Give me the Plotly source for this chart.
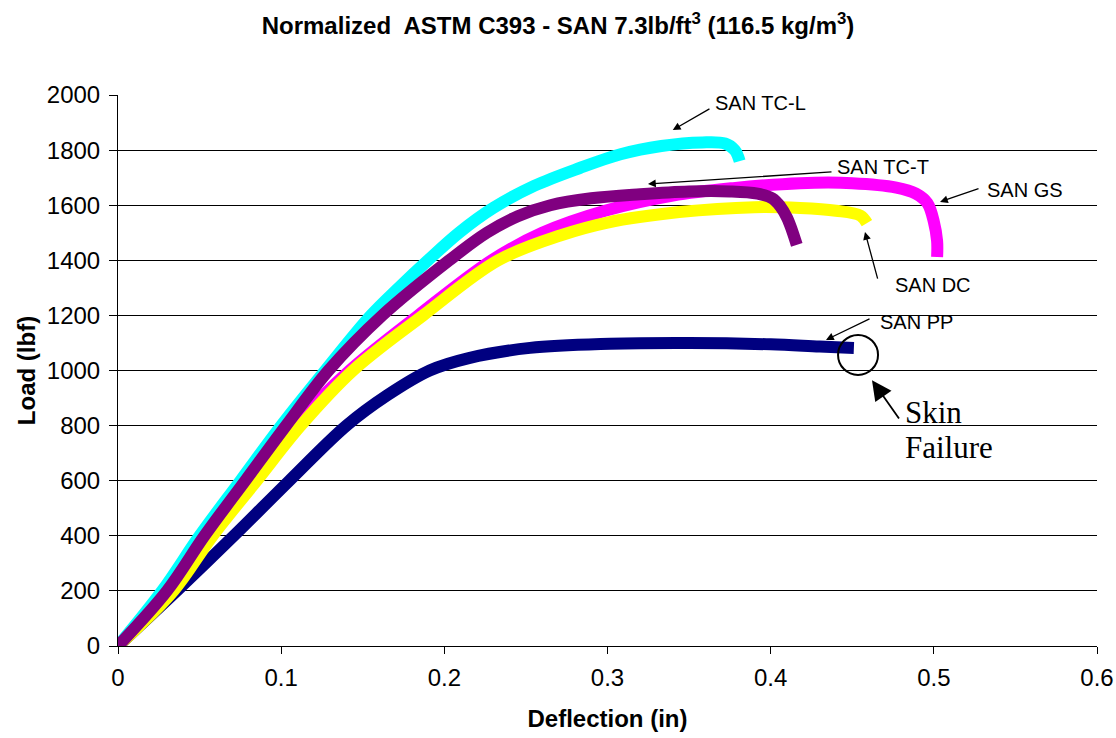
import plotly.graph_objects as go

# ---- data ----
tcl_x = [0, 0.027, 0.050, 0.075, 0.100, 0.127, 0.155, 0.172, 0.190, 0.209, 0.230, 0.255, 0.283, 0.308, 0.333, 0.358, 0.372, 0.378, 0.381]
tcl_y = [0, 200, 400, 600, 800, 1000, 1200, 1300, 1400, 1500, 1590, 1670, 1735, 1785, 1815, 1828, 1824, 1800, 1760]

tct_x = [0, 0.030, 0.053, 0.078, 0.103, 0.129, 0.162, 0.203, 0.226, 0.245, 0.265, 0.290, 0.320, 0.350, 0.375, 0.392, 0.401, 0.406, 0.410, 0.413, 0.416]
tct_y = [0, 200, 400, 600, 800, 1000, 1200, 1400, 1500, 1560, 1600, 1625, 1640, 1650, 1650, 1642, 1625, 1595, 1555, 1510, 1456]

gs_x = [0, 0.031, 0.055, 0.081, 0.108, 0.142, 0.184, 0.229, 0.260, 0.2985, 0.340, 0.377, 0.418, 0.450, 0.477, 0.489, 0.496, 0.500, 0.502, 0.502]
gs_y = [0, 200, 400, 600, 800, 1000, 1200, 1400, 1500, 1580, 1635, 1662, 1680, 1680, 1664, 1642, 1608, 1540, 1470, 1412]

dc_x = [0, 0.034, 0.058, 0.085, 0.112, 0.144, 0.187, 0.233, 0.271, 0.300, 0.344, 0.390, 0.418, 0.440, 0.455, 0.459]
dc_y = [0, 200, 400, 600, 800, 1000, 1200, 1400, 1490, 1537, 1575, 1593, 1590, 1580, 1562, 1535]

pp_x = [0, 0.036, 0.071, 0.105, 0.140, 0.165, 0.191, 0.215, 0.2525, 0.3015, 0.350, 0.400, 0.430, 0.451]
pp_y = [0, 200, 400, 600, 800, 910, 1000, 1045, 1082, 1097, 1100, 1095, 1087, 1082]

x_ticks = [0, 0.1, 0.2, 0.3, 0.4, 0.5, 0.6]
x_tick_text = ["0", "0.1", "0.2", "0.3", "0.4", "0.5", "0.6"]
y_ticks = [0, 200, 400, 600, 800, 1000, 1200, 1400, 1600, 1800, 2000]

series = [
    ("SAN PP", pp_x, pp_y, "#000080"),
    ("SAN GS", gs_x, gs_y, "#FF00FF"),
    ("SAN DC", dc_x, dc_y, "#FFFF00"),
    ("SAN TC-L", tcl_x, tcl_y, "#00FFFF"),
    ("SAN TC-T", tct_x, tct_y, "#800080"),
]

fig = go.Figure()
for name, xs, ys, col in series:
    fig.add_trace(go.Scatter(x=xs, y=ys, mode="lines", name=name,
                             line=dict(color=col, width=12, shape="spline", smoothing=1.0),
                             showlegend=False))

lab_font = dict(family="Liberation Sans, Arial", size=20, color="black")
# (label, head_x, head_y, tail_x, tail_y, text_x, text_y)
labels = [
    ("SAN TC-L", 0.340, 1873, 0.3634, 1953, 0.3646, 1971),
    ("SAN TC-T", 0.3248, 1677, 0.4382, 1721, 0.4394, 1739),
    ("SAN GS", 0.5038, 1612, 0.5283, 1662, 0.5314, 1655),
    ("SAN DC", 0.4578, 1503, 0.4658, 1328, 0.475, 1310),
    ("SAN PP", 0.4339, 1111, 0.4615, 1190, 0.4658, 1176),
]
for txt, hx, hy, tx, ty, lx, ly in labels:
    fig.add_annotation(x=hx, y=hy, ax=tx, ay=ty, xref="x", yref="y", axref="x", ayref="y",
                       text="", showarrow=True, arrowhead=2, arrowsize=1.2, arrowwidth=1.3,
                       arrowcolor="black")
    fig.add_annotation(x=lx, y=ly, xref="x", yref="y", text=txt, showarrow=False,
                       xanchor="left", yanchor="middle", font=lab_font)

# Skin failure callout
fig.add_annotation(x=0.4621, y=965, ax=0.4793, ay=820, xref="x", yref="y", axref="x", ayref="y",
                   text="", showarrow=True, arrowhead=2, arrowsize=2.2, arrowwidth=1.8,
                   arrowcolor="black")
serif = dict(family="Liberation Serif, Times New Roman", size=31, color="black")
fig.add_annotation(x=0.4813, y=849, xref="x", yref="y", text="Skin", showarrow=False,
                   xanchor="left", yanchor="middle", font=serif)
fig.add_annotation(x=0.4813, y=722, xref="x", yref="y", text="Failure", showarrow=False,
                   xanchor="left", yanchor="middle", font=serif)
fig.add_shape(type="circle", xref="x", yref="y", x0=0.4413, x1=0.4658, y0=984, y1=1129,
              line=dict(color="black", width=2))

fig.update_layout(
    width=1116, height=738,
    margin=dict(l=118, r=19, t=95, b=92, autoexpand=False),
    paper_bgcolor="white", plot_bgcolor="white",
    title=dict(text="<b>Normalized  ASTM C393 - SAN 7.3lb/ft<sup>3</sup> (116.5 kg/m<sup>3</sup>)</b>",
               x=0.5, xanchor="center", y=0.965, yanchor="middle",
               font=dict(family="Liberation Sans, Arial", size=24, color="black")),
    font=dict(family="Liberation Sans, Arial", color="black"),
)
fig.update_xaxes(range=[0, 0.6], tickmode="array", tickvals=x_ticks, ticktext=x_tick_text,
                 showgrid=False, zeroline=False, automargin=False,
                 showline=True, linecolor="black", linewidth=1,
                 ticks="outside", ticklen=7, tickcolor="black", ticklabelstandoff=3,
                 tickfont=dict(size=24),
                 title=dict(text="<b>Deflection (in)</b>", font=dict(size=24), standoff=20))
fig.update_yaxes(range=[0, 2000], tickmode="array", tickvals=y_ticks,
                 showgrid=True, gridcolor="black", gridwidth=1, zeroline=False, automargin=False,
                 showline=True, linecolor="black", linewidth=1,
                 ticks="outside", ticklen=8, tickcolor="black", ticklabelstandoff=4,
                 tickfont=dict(size=24),
                 title=dict(text="<b>Load (lbf)</b>", font=dict(size=24), standoff=4))

fig.write_html("out.html")
